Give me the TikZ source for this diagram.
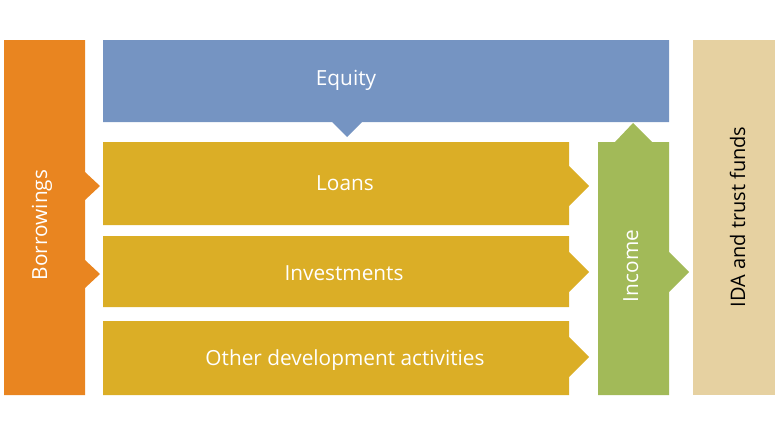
\documentclass[tikz,border=0pt]{standalone}
\usepackage{fontspec}
\setmainfont{Open Sans}
\definecolor{borrowc}{HTML}{E98520}
\definecolor{equityc}{HTML}{7594C2}
\definecolor{lendc}{HTML}{DBAE26}
\definecolor{incomec}{HTML}{A2BA58}
\definecolor{idac}{HTML}{E6D1A1}

\begin{document}
\begin{tikzpicture}[x=.75pt,y=-.75pt,line join=miter,
  every node/.style={font=\fontsize{15.6}{18}\selectfont,text=white,
    inner sep=0pt,anchor=base}]
  \useasboundingbox (0,0) rectangle (780,439);
  % Borrowings feed the lending boxes
  \fill[borrowc] (4,40) -- (85,40) -- (85,172) -- (100,186) -- (85,200)
    -- (85,260) -- (100,274) -- (85,288) -- (85,395) -- (4,395) -- cycle;
  \fill[equityc] (103,40) -- (669,40) -- (669,122) -- (362,122) -- (347,137)
    -- (332,122) -- (103,122) -- cycle;
  \fill[lendc] (103,142) -- (569,142) -- (569,166) -- (589,186) -- (569,206)
    -- (569,225) -- (103,225) -- cycle;
  \fill[lendc] (103,236) -- (569,236) -- (569,252) -- (589,272) -- (569,292)
    -- (569,307) -- (103,307) -- cycle;
  \fill[lendc] (103,321) -- (569,321) -- (569,337) -- (589,357) -- (569,377)
    -- (569,395) -- (103,395) -- cycle;
  % Income goes up to equity and out to IDA
  \fill[incomec] (598,142) -- (615,142) -- (633,123) -- (652,142) -- (669,142)
    -- (669,252) -- (689,272) -- (669,292) -- (669,395) -- (598,395) -- cycle;
  \fill[idac] (693,40) rectangle (775,395);
  \node (equity) at (346,85) {Equity};
  \node (loans) at (345,190) {Loans};
  \node (invest) at (344,280) {Investments};
  \node (other) at (345,365) {Other development activities};
  \node[rotate=90] (borrow) at (47,225) {Borrowings};
  \node[rotate=90] (income) at (638,266) {Income};
  \node[rotate=90,text=black,font=\fontsize{15}{18}\selectfont] (ida) at (745,217) {IDA and trust funds};
\end{tikzpicture}
\end{document}
